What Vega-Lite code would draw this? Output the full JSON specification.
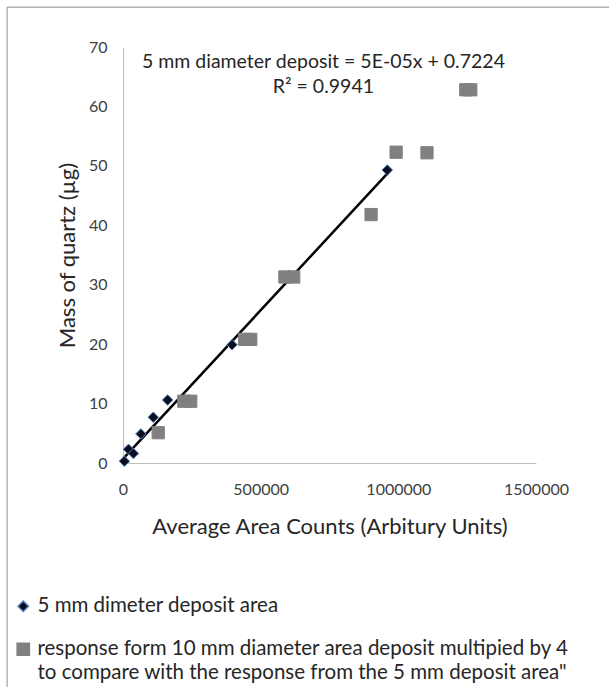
{
  "$schema": "https://vega.github.io/schema/vega-lite/v6.json",
  "width": 413,
  "height": 416,
  "autosize": {"type": "none"},
  "padding": {"left": 123, "top": 47, "right": 73, "bottom": 224},
  "background": "white",
  "data": {"values": [{}]},
  "config": {
    "view": {"stroke": null},
    "font": "Lato",
    "axis": {"grid": false, "ticks": false, "domainColor": "#bfbfbf", "labelFont": "Lato", "titleFont": "Lato", "labelColor": "#404040", "titleColor": "#262626", "titleFontWeight": "normal", "labelFlush": false},
    "legend": {"labelFont": "Lato"},
    "style": {"guide-label": {"lineHeight": 24}}
  },
  "datasets": {
    "points": [
      {"area": 5000, "mass": 0.3, "series": "5mm"},
      {"area": 20000, "mass": 2.3, "series": "5mm"},
      {"area": 38000, "mass": 1.6, "series": "5mm"},
      {"area": 65000, "mass": 4.9, "series": "5mm"},
      {"area": 110000, "mass": 7.7, "series": "5mm"},
      {"area": 162000, "mass": 10.6, "series": "5mm"},
      {"area": 396000, "mass": 19.9, "series": "5mm"},
      {"area": 960000, "mass": 49.3, "series": "5mm"},
      {"area": 128000, "mass": 5.1, "series": "10mm"},
      {"area": 221000, "mass": 10.4, "series": "10mm"},
      {"area": 246000, "mass": 10.4, "series": "10mm"},
      {"area": 442000, "mass": 20.8, "series": "10mm"},
      {"area": 464000, "mass": 20.8, "series": "10mm"},
      {"area": 588000, "mass": 31.3, "series": "10mm"},
      {"area": 620000, "mass": 31.3, "series": "10mm"},
      {"area": 901000, "mass": 41.8, "series": "10mm"},
      {"area": 992000, "mass": 52.3, "series": "10mm"},
      {"area": 1104000, "mass": 52.2, "series": "10mm"},
      {"area": 1245000, "mass": 62.8, "series": "10mm"},
      {"area": 1263000, "mass": 62.8, "series": "10mm"}
    ],
    "trend": [
      {"area": 5000, "mass": 0.95},
      {"area": 964000, "mass": 48.9}
    ]
  },
  "layer": [
    {
      "mark": {"type": "rect", "fill": null, "stroke": "#8c8c8c", "strokeWidth": 1, "clip": false},
      "encoding": {
        "x": {"datum": -421000, "type": "quantitative"},
        "x2": {"datum": 2000000},
        "y": {"datum": 76.7, "type": "quantitative"},
        "y2": {"datum": -80}
      }
    },
    {
      "data": {"name": "trend"},
      "mark": {"type": "line", "color": "#000000", "strokeWidth": 2.5},
      "encoding": {
        "x": {"field": "area", "type": "quantitative"},
        "y": {"field": "mass", "type": "quantitative"}
      }
    },
    {
      "data": {"name": "points"},
      "mark": {"type": "point", "filled": true, "opacity": 1, "strokeWidth": 1},
      "encoding": {
        "x": {
          "field": "area", "type": "quantitative",
          "scale": {"domain": [0, 1500000], "nice": false},
          "axis": {"values": [0, 500000, 1000000, 1500000], "format": "d", "labelFontSize": 16, "labelPadding": 18, "title": "Average Area Counts (Arbitury Units)", "titleFontSize": 22, "titlePadding": 19}
        },
        "y": {
          "field": "mass", "type": "quantitative",
          "scale": {"domain": [0, 70], "nice": false},
          "axis": {"values": [0, 10, 20, 30, 40, 50, 60, 70], "labelFontSize": 16, "labelPadding": 16, "title": "Mass of quartz (µg)", "titleFontSize": 22, "titlePadding": 9}
        },
        "shape": {
          "field": "series", "type": "nominal",
          "scale": {"domain": ["5mm", "10mm"], "range": ["diamond", "square"]},
          "legend": {
            "title": null, "orient": "none", "legendX": -110, "legendY": 549, "direction": "vertical",
            "labelFontSize": 20.5, "labelColor": "#262626", "symbolSize": 90, "rowPadding": 22, "labelOffset": 4, "labelLimit": 600,
            "labelExpr": "datum.value == '5mm' ? '5 mm dimeter deposit area' : ['response form 10 mm diameter area deposit multipied by 4', 'to compare with the response from the 5 mm deposit area\"']"
          }
        },
        "color": {
          "field": "series", "type": "nominal",
          "scale": {"domain": ["5mm", "10mm"], "range": ["#0d0d1f", "#808080"]},
          "legend": {
            "title": null, "orient": "none", "legendX": -110, "legendY": 549, "direction": "vertical",
            "labelFontSize": 20.5, "labelColor": "#262626", "symbolSize": 90, "rowPadding": 22, "labelOffset": 4, "labelLimit": 600,
            "labelExpr": "datum.value == '5mm' ? '5 mm dimeter deposit area' : ['response form 10 mm diameter area deposit multipied by 4', 'to compare with the response from the 5 mm deposit area\"']"
          }
        },
        "stroke": {
          "field": "series", "type": "nominal",
          "scale": {"domain": ["5mm", "10mm"], "range": ["#4f81bd", "#808080"]},
          "legend": null
        },
        "size": {
          "field": "series", "type": "nominal",
          "scale": {"domain": ["5mm", "10mm"], "range": [110, 150]},
          "legend": null
        }
      }
    },
    {
      "mark": {"type": "text", "text": "5 mm diameter deposit  = 5E-05x + 0.7224", "fontSize": 19.5, "font": "Lato", "color": "#262626", "align": "center", "baseline": "middle"},
      "encoding": {
        "x": {"datum": 728000, "type": "quantitative"},
        "y": {"datum": 67.5, "type": "quantitative"}
      }
    },
    {
      "mark": {"type": "text", "text": "R² = 0.9941", "fontSize": 19.5, "font": "Lato", "color": "#262626", "align": "center", "baseline": "middle"},
      "encoding": {
        "x": {"datum": 728000, "type": "quantitative"},
        "y": {"datum": 63.3, "type": "quantitative"}
      }
    }
  ]
}
